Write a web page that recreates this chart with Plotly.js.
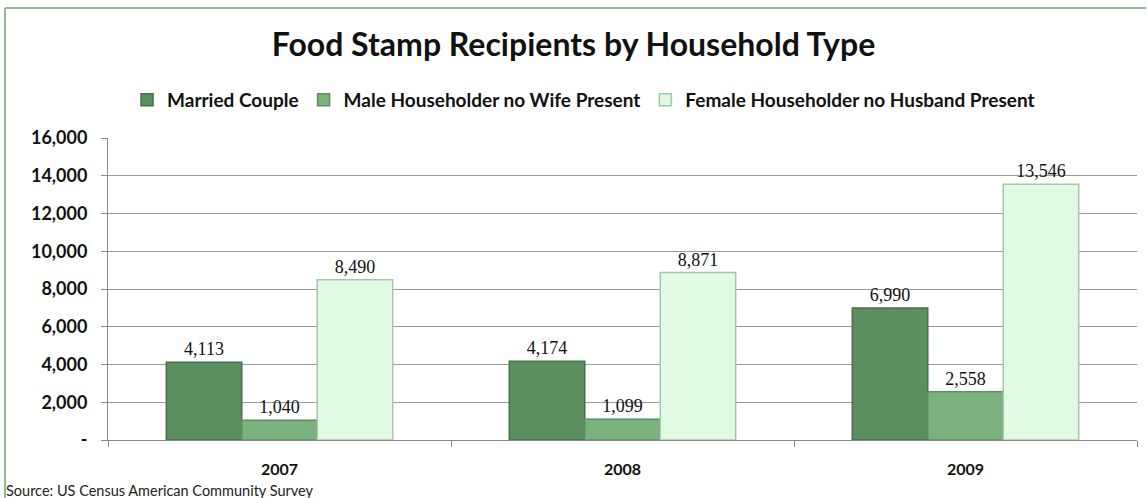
<!DOCTYPE html>
<html>
<head>
<meta charset="utf-8">
<script src="https://cdn.plot.ly/plotly-3.0.1.min.js"></script>
<style>html,body{margin:0;padding:0;background:#fff;overflow:hidden;}#chart{width:1147px;height:498px;}</style>
</head>
<body>
<div id="chart"></div>
<script>
const years = ['2007', '2008', '2009'];
const married = [4113, 4174, 6990];
const maleNoWife = [1040, 1099, 2558];
const femaleNoHusband = [8490, 8871, 13546];
const seriesNames = ['Married Couple', 'Male Householder no Wife Present', 'Female Householder no Husband Present'];
const yTickVals = [0, 2000, 4000, 6000, 8000, 10000, 12000, 14000, 16000];
const yTickText = ['-', '2,000', '4,000', '6,000', '8,000', '10,000', '12,000', '14,000', '16,000'];

const colors = ['#5C8F60', '#7BB07F', '#E0FAE4'];
const lines = ['#45704A', '#5E8E63', '#A9C4AC'];
const series = [married, maleNoWife, femaleNoHusband];

const fmt = v => v.toLocaleString('en-US');

const traces = series.map((vals, i) => ({
  type: 'bar',
  name: '<b>' + seriesNames[i] + '</b>',
  x: years,
  y: vals,
  text: vals.map(fmt),
  textposition: 'outside',
  textfont: {family: 'Liberation Serif, serif', size: 18, color: '#111'},
  cliponaxis: false,
  marker: {color: colors[i], line: {color: lines[i], width: 1.5}},
  hoverinfo: 'x+y'
}));

const layout = {
  width: 1147,
  height: 498,
  margin: {l: 108, r: 10, t: 138, b: 58},
  paper_bgcolor: '#ffffff',
  plot_bgcolor: '#ffffff',
  font: {family: 'Lato, "Open Sans", sans-serif', color: '#111'},
  title: {
    text: '<b>Food Stamp Recipients by Household Type</b>',
    font: {family: 'Lato, "Open Sans", sans-serif', size: 32, color: '#111'},
    x: 0.5, xanchor: 'center',
    y: 1 - 45 / 498, yanchor: 'middle', yref: 'container'
  },
  barmode: 'group',
  bargap: 0.34,
  bargroupgap: 0,
  showlegend: true,
  legend: {
    orientation: 'h',
    x: 0.0185, xanchor: 'left',
    y: 1 + (138 - 100) / 302, yanchor: 'middle',
    font: {family: 'Lato, "Open Sans", sans-serif', size: 19, color: '#111'},
    traceorder: 'normal',
    bgcolor: 'rgba(0,0,0,0)'
  },
  xaxis: {
    type: 'category',
    tickson: 'boundaries',
    ticks: 'outside',
    ticklen: 6,
    tickcolor: '#888',
    showline: true,
    linecolor: '#888',
    linewidth: 1,
    showgrid: false,
    tickfont: {family: 'Lato, "Open Sans", sans-serif', size: 16, color: '#111'},
    ticklabelstandoff: 15,
    tickprefix: '<b>', ticksuffix: '</b>'
  },
  yaxis: {
    range: [0, 16000],
    tickvals: yTickVals,
    ticktext: yTickText.map(t => '<b>' + t + '</b>'),
    ticks: 'outside',
    ticklen: 6,
    tickcolor: '#888',
    showline: true,
    linecolor: '#888',
    linewidth: 1,
    showgrid: true,
    gridcolor: '#9a9a9a',
    gridwidth: 1,
    zeroline: false,
    tickfont: {family: 'Lato, "Open Sans", sans-serif', size: 18, color: '#111'},
    ticklabelstandoff: 10
  },
  shapes: [
    {type: 'line', xref: 'paper', yref: 'paper',
     x0: (5 - 108) / 1029, x1: (1146 - 108) / 1029,
     y0: (440 - 8) / 302, y1: (440 - 8) / 302,
     line: {color: '#93B896', width: 2}},
    {type: 'line', xref: 'paper', yref: 'paper',
     x0: (5 - 108) / 1029, x1: (5 - 108) / 1029,
     y0: (440 - 8) / 302, y1: (440 - 498) / 302,
     line: {color: '#93B896', width: 2}}
  ],
  annotations: [{
    text: 'Source: US Census American Community Survey',
    xref: 'paper', yref: 'paper',
    x: (4 - 108) / 1029, xanchor: 'left',
    y: -(490 - 440) / 302, yanchor: 'middle',
    showarrow: false,
    font: {family: 'Lato, "Open Sans", sans-serif', size: 14.5, color: '#222'}
  }]
};

Plotly.newPlot('chart', traces, layout, {displayModeBar: false, staticPlot: true});
</script>
</body>
</html>
